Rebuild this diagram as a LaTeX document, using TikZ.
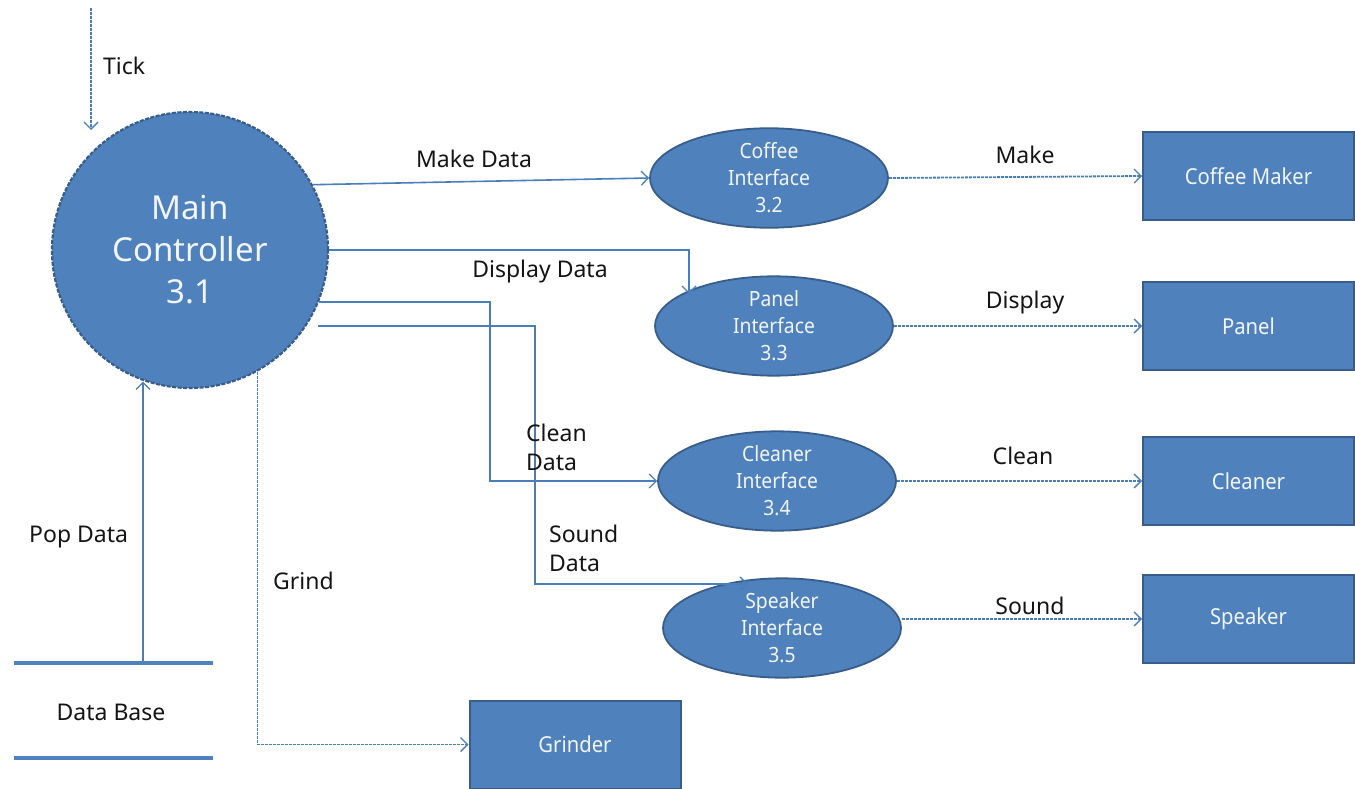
\documentclass[tikz,border=0pt]{standalone}
\usepackage{fontspec}
\setmainfont{Noto Sans}
\newfontfamily\narrowfont[FakeStretch=0.92]{Noto Sans}
\usetikzlibrary{shapes.geometric,arrows.meta,calc}

\definecolor{fillb}{HTML}{4F81BD}
\definecolor{bdr}{HTML}{385D8A}
\definecolor{linec}{HTML}{4A7EBB}
\definecolor{txtw}{HTML}{F2F5FA}
\definecolor{txtk}{HTML}{141414}

\tikzset{
  ctrl/.style={circle, draw=bdr, line width=2.2pt, dash pattern=on 4pt off 1.5pt,
    fill=fillb, minimum size=276pt, inner sep=0pt, align=center, text=txtw,
    font=\fontsize{33}{42}\selectfont},
  proc/.style={ellipse, draw=bdr, line width=1.8pt, fill=fillb,
    minimum width=238pt, minimum height=86pt, inner sep=0pt, align=center,
    text=txtw, font=\narrowfont\fontsize{21}{27}\selectfont},
  term/.style={rectangle, draw=bdr, line width=2pt, fill=fillb,
    minimum width=211pt, minimum height=88pt, text=txtw,
    font=\narrowfont\fontsize{22}{26}\selectfont},
  flow/.style={draw=linec, line width=1.6pt,
    -{Straight Barb[length=7pt,width=14pt,line width=1.3pt]}},
  dflow/.style={flow, line width=1.8pt, dash pattern=on 3pt off 1pt},
  lbl/.style={font=\fontsize{23}{29}\selectfont, text=txtk, inner sep=0pt, align=left},
  store/.style={draw=fillb, line width=4pt},
}

\begin{document}
\begin{tikzpicture}[x=1pt, y=-1pt]
\useasboundingbox (0,0) rectangle (1355,789);

% processes
\node[ctrl] (mc) at (190,250) {Main\\Controller\\3.1};
\node[proc] (ci) at (769,178) {Coffee\\Interface\\3.2};
\node[proc] (pi) at (774,326) {Panel\\Interface\\3.3};
\node[proc] (cl) at (777,481) {Cleaner\\Interface\\3.4};
\node[proc] (sp) at (782,628) {Speaker\\Interface\\3.5};

% external devices
\node[term] (cm) at (1248.5,176) {Coffee Maker};
\node[term] (pn) at (1248.5,326) {Panel};
\node[term] (cn) at (1248.5,481) {Cleaner};
\node[term] (sk) at (1248.5,619) {Speaker};
\node[term] (gr) at (575,744.5) {Grinder};

% data store
\node[lbl] (db) at (111,712) {Data Base};
\draw[store] (14,663) -- (213,663);
\draw[store] (14,758) -- (213,758);

% free connector ends
\coordinate (tick0) at (91,8);
\coordinate (tick1) at (91,130);
\coordinate (dbtop) at (143,661);
\coordinate (piin) at (689,294);
\coordinate (sstart) at (318,326);
\coordinate (spin) at (748,584);

% flows from the controller
\draw[dflow] (tick0) -- (tick1);
\draw[flow] (mc.28) -- (ci.west);
\draw[flow] (mc.0) -| (piin);
\draw[flow] (mc.-22) -- ++(171,0) |- (cl.west);
\draw[flow] (sstart) -- ++(217,0) |- (spin);
\draw[dflow] (mc.-61) |- (gr.west);
\draw[flow] (dbtop) -- (dbtop |- mc.-109);

% flows to devices
\draw[dflow] (ci.east) -- (cm.west);
\draw[dflow] (pi.east) -- (pn.west);
\draw[dflow] (cl.east) -- (cn.west);
\draw[dflow] (sp.east |- sk.west) -- (sk.west);

% labels
\node[lbl, anchor=west] (ltick) at (103,66) {Tick};
\node[lbl] (lmake) at (474,159) {Make Data};
\node[lbl] (ldisp) at (540,272) {Display Data};
\node[lbl, anchor=west] (lclean) at (526,447) {Clean\\Data};
\node[lbl, anchor=west] (lsound) at (549,548) {Sound\\Data};
\node[lbl, anchor=west] (lgrind) at (273,581) {Grind};
\node[lbl, anchor=west] (lpop) at (29,537) {Pop Data};
\node[lbl] (l1) at (1025,155) {Make};
\node[lbl] (l2) at (1025,303) {Display};
\node[lbl] (l3) at (1023,456) {Clean};
\node[lbl] (l4) at (1030,606) {Sound};
\end{tikzpicture}
\end{document}
